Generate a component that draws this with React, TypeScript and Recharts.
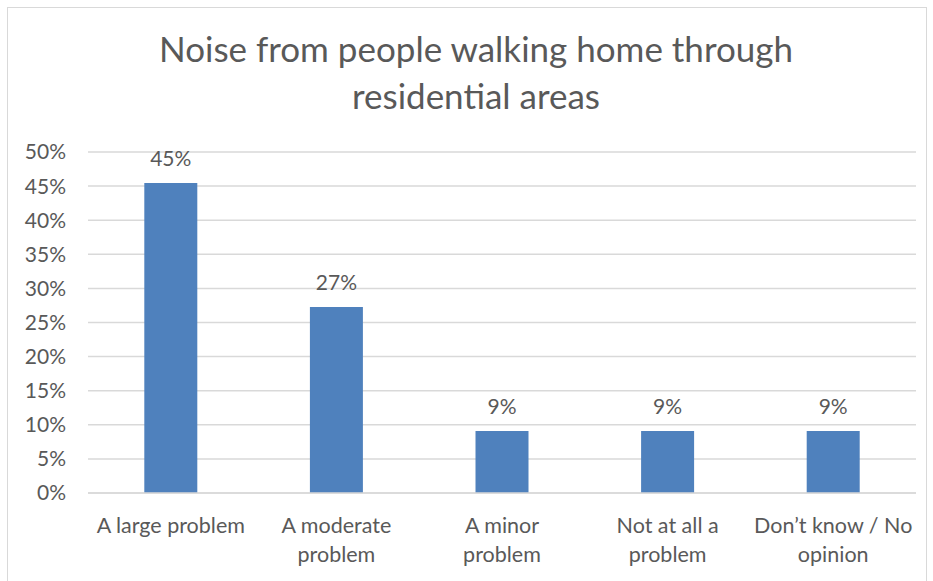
import React from 'react';
import { BarChart, Bar, XAxis, YAxis, CartesianGrid, LabelList } from 'recharts';

// survey answers, share of respondents
const categories = [
  'A large problem',
  'A moderate\nproblem',
  'A minor\nproblem',
  'Not at all a\nproblem',
  'Don\u2019t know / No\nopinion',
];
const shares = [45.45, 27.27, 9.09, 9.09, 9.09];
const yTicks = [0, 5, 10, 15, 20, 25, 30, 35, 40, 45, 50];

const TEXT = '#595959';
const FONT = 'Lato, "Open Sans", sans-serif';

const data = categories.map((c, i) => ({ name: c, value: shares[i] }));

function CategoryTick(props: any) {
  const { x, y, payload } = props;
  const lines = String(payload.value).split('\n');
  return (
    <g transform={`translate(${x},${y})`}>
      {lines.map((ln, i) => (
        <text
          key={i}
          x={0}
          y={i * 29}
          dy={32}
          textAnchor="middle"
          fill={TEXT}
          fontSize={21.5}
          fontFamily={FONT}
        >
          {ln}
        </text>
      ))}
    </g>
  );
}

export default function App() {
  return (
    <div
      style={{
        position: 'absolute',
        left: 0,
        top: 0,
        width: 933,
        height: 581,
        background: '#fff',
        overflow: 'hidden',
        fontFamily: FONT,
      }}
    >
      <div
        style={{
          position: 'absolute',
          left: 7,
          top: 7,
          width: 918,
          height: 600,
          border: '1px solid #d9d9d9',
        }}
      />
      <div
        style={{
          position: 'absolute',
          left: 0,
          top: 25,
          width: 952,
          textAlign: 'center',
          color: TEXT,
          fontSize: 35,
          lineHeight: '47px',
        }}
      >
        Noise from people walking home through
        <br />
        residential areas
      </div>
      <div style={{ position: 'absolute', left: 0, top: 0 }}>
        <BarChart
          width={933}
          height={581}
          data={data}
          margin={{ top: 152, right: 17, bottom: 0, left: 0 }}
          barCategoryGap="34%"
        >
          <CartesianGrid vertical={false} stroke="#d9d9d9" strokeWidth={1.5} />
          <XAxis
            dataKey="name"
            axisLine={{ stroke: '#d9d9d9', strokeWidth: 1.5 }}
            tickLine={false}
            tick={<CategoryTick />}
            interval={0}
            height={88}
          />
          <YAxis
            width={88}
            domain={[0, 50]}
            ticks={yTicks}
            interval={0}
            axisLine={false}
            tickLine={false}
            tickSize={0}
            tickMargin={22}
            tickFormatter={(v: number) => `${v}%`}
            tick={{ fill: TEXT, fontSize: 21, fontFamily: FONT }}
          />
          <Bar dataKey="value" fill="#4f81bd" isAnimationActive={false}>
            <LabelList
              dataKey="value"
              position="top"
              offset={17}
              formatter={(v: any) => `${Math.round(Number(v))}%`}
              fill={TEXT}
              fontSize={21}
              fontFamily={FONT}
            />
          </Bar>
        </BarChart>
      </div>
    </div>
  );
}
